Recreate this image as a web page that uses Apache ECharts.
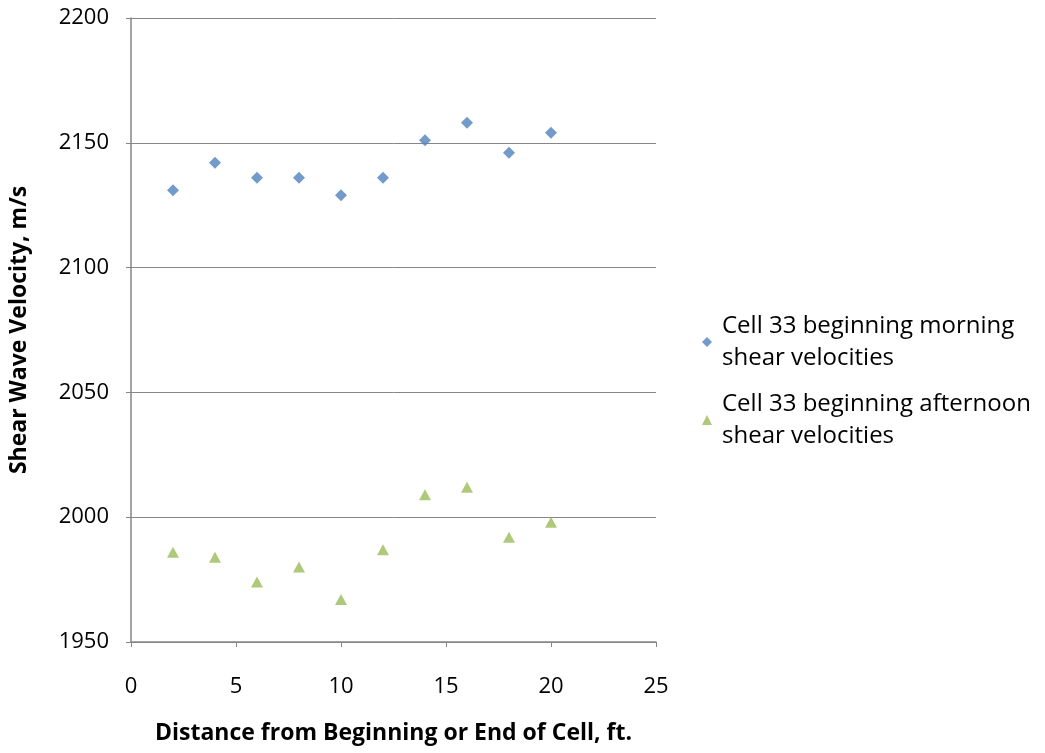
<!DOCTYPE html>
<html>
<head>
<meta charset="utf-8">
<script src="https://cdn.jsdelivr.net/npm/echarts@6/dist/echarts.min.js"></script>
<style>
  html, body { margin: 0; padding: 0; background: #fff; }
  #main { width: 1045px; height: 753px; }
</style>
</head>
<body>
<div id="main"></div>
<script>
// distance along the cell, ft
var distances = [2, 4, 6, 8, 10, 12, 14, 16, 18, 20]
// shear wave velocity, m/s
var morning = [2131, 2142, 2136, 2136, 2129, 2136, 2151, 2158, 2146, 2154]
var afternoon = [1986, 1984, 1974, 1980, 1967, 1987, 2009, 2012, 1992, 1998]
var seriesNames = ['Cell 33 beginning morning shear velocities', 'Cell 33 beginning afternoon shear velocities']

function pairs(xs, ys) {
  return xs.map(function (x, i) { return [x, ys[i]] })
}

var myChart = echarts.init(document.getElementById('main'))
var axisGray = '#868686'
var font = 'Open Sans'
var option = {
  animation: false,
  textStyle: { fontFamily: font },
  grid: { left: 131, right: 389, top: 18, bottom: 111 },
  legend: {
    orient: 'vertical',
    left: 697,
    top: 305,
    itemWidth: 10,
    itemHeight: 10,
    itemGap: 14,
    data: [
      { name: seriesNames[0], icon: 'diamond' },
      { name: seriesNames[1], icon: 'triangle' }
    ],
    formatter: function (name) {
      return name.replace(' shear', '\nshear')
    },
    textStyle: { fontSize: 24, lineHeight: 32, color: '#000', fontFamily: font, padding: [0, 0, 0, 5] }
  },
  xAxis: {
    type: 'value',
    min: 0,
    max: 25,
    interval: 5,
    name: 'Distance from Beginning or End of Cell, ft.',
    nameLocation: 'middle',
    nameGap: 80,
    nameTextStyle: { fontSize: 23, fontWeight: 'bold', color: '#000', fontFamily: font },
    axisLine: { lineStyle: { color: axisGray, width: 1.5 } },
    axisTick: { show: true, length: 5, lineStyle: { color: axisGray } },
    axisLabel: { fontSize: 22, color: '#000', margin: 34, fontFamily: font },
    splitLine: { show: false }
  },
  yAxis: {
    type: 'value',
    min: 1950,
    max: 2200,
    interval: 50,
    name: 'Shear Wave Velocity, m/s',
    nameLocation: 'middle',
    nameGap: 100,
    nameTextStyle: { fontSize: 23, fontWeight: 'bold', color: '#000', fontFamily: font },
    axisLine: { show: true, lineStyle: { color: axisGray, width: 1.5 } },
    axisTick: { show: true, length: 5, lineStyle: { color: axisGray } },
    axisLabel: { fontSize: 22, color: '#000', margin: 22, fontFamily: font, formatter: function (v) { return String(v) } },
    splitLine: { show: true, lineStyle: { color: axisGray, width: 1 } }
  },
  series: [
    {
      name: seriesNames[0],
      type: 'scatter',
      symbol: 'diamond',
      symbolSize: 12,
      itemStyle: { color: '#4F81BD' },
      data: pairs(distances, morning)
    },
    {
      name: seriesNames[1],
      type: 'scatter',
      symbol: 'triangle',
      symbolSize: [12, 11],
      itemStyle: { color: '#9BBB59' },
      data: pairs(distances, afternoon)
    }
  ]
}
myChart.setOption(option)
</script>
</body>
</html>
